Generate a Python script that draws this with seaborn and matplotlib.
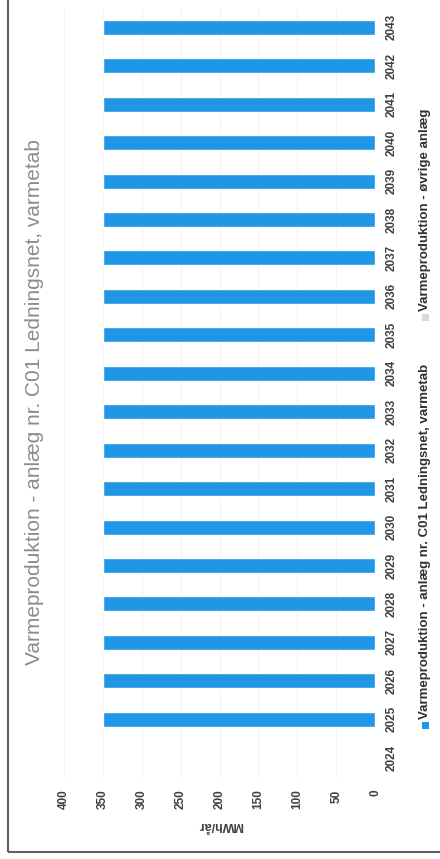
import matplotlib
matplotlib.use("Agg")
import matplotlib.pyplot as plt
from matplotlib.patches import Rectangle
import seaborn as sns
import pandas as pd

sns.set_style("white")
plt.rcParams['font.family'] = ['Liberation Sans', 'DejaVu Sans']

years = [str(y) for y in range(2024, 2044)]
heat_loss = [0] + [350] * 19
value_ticks = [0, 50, 100, 150, 200, 250, 300, 350, 400]

title = "Varmeproduktion - anlæg nr. C01 Ledningsnet, varmetab"
series_names = ["Varmeproduktion - anlæg nr. C01 Ledningsnet, varmetab",
                "Varmeproduktion - øvrige anlæg"]
unit = "MWh/år"

bar_color = "#1f97e6"
other_color = "#d9d9d9"

df = pd.DataFrame({"year": years, "mwh": heat_loss})

W, H = 440, 859
fig = plt.figure(figsize=(W / 100, H / 100), dpi=100)

# axes placed in pixel terms of the scanned page
ax = fig.add_axes([64 / W, 1 - 777 / H, 311 / W, 769 / H])
sns.barplot(data=df, x="mwh", y="year", order=years[::-1], orient="h",
            color=bar_color, width=0.39, saturation=1, ax=ax)

ax.set_xlim(400, 0)
ax.set_ylim(len(years) - 0.5, -0.5)
ax.set_xticks(value_ticks)
ax.set_xticklabels([str(v) for v in value_ticks], rotation=90, fontsize=8.5,
                   color="#404040", fontweight="bold")
ax.yaxis.tick_right()
ax.set_yticks(range(len(years)))
ax.set_yticklabels(years[::-1], rotation=90, fontsize=8.5, color="#404040",
                   va="center", fontweight="bold")
ax.tick_params(axis="x", length=0, pad=9)
ax.tick_params(axis="y", length=0, pad=8)
ax.set_xlabel("")
ax.set_ylabel("")
ax.grid(axis="x", color="#f2f2f2", lw=0.8)
ax.set_axisbelow(True)
for s in ax.spines.values():
    s.set_visible(False)

# title and unit label, rotated like the scan
fig.text(35 / W, 1 - 402 / H, title, rotation=90, ha="center", va="center",
         fontsize=15, color="#8c8c8c")
fig.text(220 / W, 1 - 825 / H, unit, rotation=180, ha="center", va="center",
         fontsize=9, color="#404040", fontweight="bold")

# legend drawn by hand (rotated)
lx = 425 / W
fig.add_artist(Rectangle((lx - 3.5 / W, 1 - 729 / H), 7 / W, 7 / H,
                         transform=fig.transFigure, color=bar_color, lw=0))
fig.text(lx, 1 - 719 / H, series_names[0], rotation=90, ha="center", va="bottom",
         fontsize=9.5, color="#303030", fontweight="bold")
fig.add_artist(Rectangle((lx - 3.5 / W, 1 - 321 / H), 7 / W, 7 / H,
                         transform=fig.transFigure, color=other_color, lw=0))
fig.text(lx, 1 - 311 / H, series_names[1], rotation=90, ha="center", va="bottom",
         fontsize=9.5, color="#303030", fontweight="bold")

# page frame (left and bottom edges visible)
fig.add_artist(Rectangle((8 / W, 1 - 852 / H), 1.2, 1.2, transform=fig.transFigure,
                         fill=False, edgecolor="#606060", lw=1.5))

fig.savefig("out.png", dpi=100)
